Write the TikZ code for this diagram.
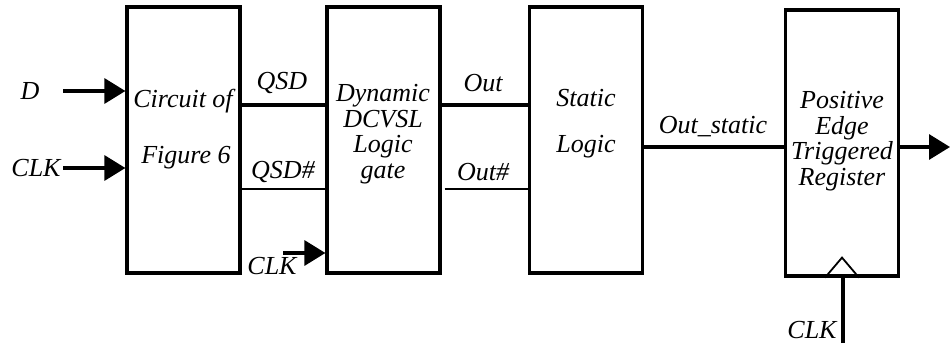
\documentclass[tikz,border=0pt]{standalone}
\usepackage{fontspec}
\setmainfont{Liberation Serif}
\usetikzlibrary{arrows.meta}
\tikzset{
	blk/.style={draw,line width=3.2pt,minimum width=113pt,minimum height=266pt,inner sep=0pt},
	lbl/.style={font=\fontsize{26}{25.5}\selectfont\itshape,inner sep=0pt,align=center},
	sig/.style={line width=3.2pt},
	thin/.style={line width=1.8pt},
	inarr/.style={line width=3.2pt,-{Triangle[length=21pt,width=25pt]}}
}
\begin{document}
\begin{tikzpicture}[x=1pt,y=-1pt]
	\useasboundingbox (0,0) rectangle (950,343);
	\node[blk] (circ) at (183.5,140) {};
	\node[blk] (dyn) at (383.5,140) {};
	\node[blk] (stat) at (586,140) {};
	\node[blk] (reg) at (842,143) {};
	\node[lbl] (circa) at (183,101) {Circuit of};
	\node[lbl] (circb) at (186,158) {Figure 6};
	\node[lbl] (dyntxt) at (383,134) {Dynamic\\DCVSL\\Logic\\gate};
	\node[lbl] (stata) at (586,98) {Static};
	\node[lbl] (statb) at (586,147) {Logic};
	\node[lbl] (regtxt) at (842,141) {Positive\\Edge\\Triggered\\Register};
	\node[lbl] (d) at (30,91) {D};
	\node[lbl] (clka) at (36,168) {CLK};
	\node[lbl] (qsd) at (282,83) {QSD};
	\node[lbl] (qsdn) at (283,172) {QSD\#};
	\node[lbl] (clkb) at (272,266) {CLK};
	\node[lbl] (out) at (483,83) {Out};
	\node[lbl] (outn) at (483,172) {Out\#};
	\node[lbl] (outs) at (713,127) {Out\_static};
	\node[lbl] (clkc) at (812,330) {CLK};
	\coordinate (dend) at (63,91);
	\coordinate (clkaend) at (63,168);
	\coordinate (clkbend) at (283,253);
	\coordinate (qend) at (950,147);
	\coordinate (clkcend) at (843,343);
	\draw[inarr] (dend) -- (circ.west |- dend);
	\draw[inarr] (clkaend) -- (circ.west |- clkaend);
	\draw[inarr] (clkbend) -- (dyn.west |- clkbend);
	\draw[sig] (circ.east |- 0,105) -- (dyn.west |- 0,105);
	\draw[thin] (circ.east |- 0,189) -- (dyn.west |- 0,189);
	\draw[sig] (dyn.east |- 0,105) -- (stat.west |- 0,105);
	\draw[thin] ([xshift=3pt]dyn.east |- 0,189) -- (stat.west |- 0,189);
	\draw[sig] (stat.east |- 0,147) -- (reg.west |- 0,147);
	\draw[inarr] (reg.east |- qend) -- (qend);
	\draw[sig] (clkcend) -- (reg.south -| clkcend);
	\draw[thin] ([xshift=-17pt]reg.south) -- ([yshift=20pt]reg.south) -- ([xshift=17pt]reg.south);
\end{tikzpicture}
\end{document}
